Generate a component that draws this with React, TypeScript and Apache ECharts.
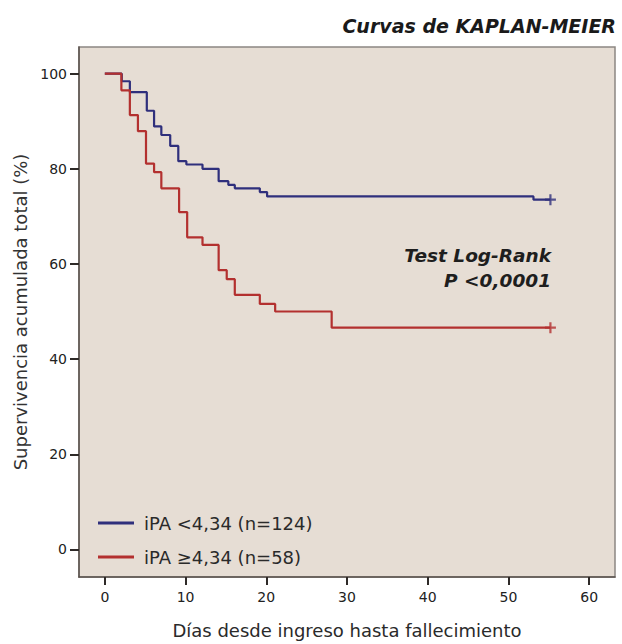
import React, { useEffect, useRef } from "react";
import * as echarts from "echarts";

const xTicks = [0, 10, 20, 30, 40, 50, 60];
const yTicks = [0, 20, 40, 60, 80, 100];

const lowLabel = "iPA <4,34 (n=124)";
const highLabel = "iPA ≥4,34 (n=58)";

// [day, survival %] step points (value after the event at that day)
const lowCurve: [number, number][] = [
  [0, 100], [2.1, 98.4], [3.1, 96.1], [5.2, 92.2], [6.1, 88.9], [7.0, 87.1],
  [8.1, 84.8], [9.1, 81.6], [10.1, 80.9], [12.1, 80.0], [14.1, 77.4],
  [15.3, 76.6], [16.1, 75.9], [19.2, 75.1], [20.1, 74.2], [53.1, 73.5], [55.2, 73.5],
];
const highCurve: [number, number][] = [
  [0, 100], [2.05, 96.5], [3.1, 91.3], [4.1, 87.9], [5.1, 81.1], [6.1, 79.3],
  [7.0, 75.9], [9.2, 70.9], [10.2, 65.6], [12.1, 64.0], [14.1, 58.7],
  [15.1, 56.8], [16.1, 53.5], [19.2, 51.6], [21.1, 50.0], [28.1, 46.6], [55.2, 46.6],
];
const lowCensored: [number, number][] = [[55.2, 73.5]];
const highCensored: [number, number][] = [[55.2, 46.6]];

const X_MIN = -3.2;
const X_MAX = 63.2;
const Y_MIN = -5.8;
const Y_MAX = 105.6;

const BLUE = "#2f2f7c";
const RED = "#b3302f";
const TICK = "#2e2a28";
const PLUS = "path://M4,0h2v4h4v2h-4v4h-2v-4h-4v-2h4z";
const FONT = "DejaVu Sans, Verdana, sans-serif";

export default function App() {
  const ref = useRef<HTMLDivElement>(null);
  useEffect(() => {
    if (!ref.current) return;
    const chart = echarts.init(ref.current, undefined, { renderer: "svg" });
    chart.setOption({
      animation: false,
      textStyle: { fontFamily: FONT },
      grid: {
        left: 79, right: 7, top: 47, bottom: 61,
        show: true, backgroundColor: "#e6ddd4", borderColor: "#8c8782", borderWidth: 1.5,
      },
      title: [
        {
          text: "Curvas de KAPLAN-MEIER", right: 6, top: 16, padding: 0,
          textStyle: { fontSize: 19, fontWeight: "bold", fontStyle: "italic", color: "#1a1a1a", fontFamily: FONT },
        },
      ],
      graphic: [
        {
          type: "text", x: 551, y: 255,
          style: {
            text: "Test Log-Rank", textAlign: "right", textVerticalAlign: "middle",
            font: `italic bold 18.5px ${FONT}`, fill: "#1e1e1e",
          },
        },
        {
          type: "text", x: 551, y: 280,
          style: {
            text: "P <0,0001", textAlign: "right", textVerticalAlign: "middle",
            font: `italic bold 18.5px ${FONT}`, fill: "#1e1e1e",
          },
        },
      ],
      legend: {
        orient: "vertical", left: 98, top: 514, padding: 0,
        itemWidth: 36, itemHeight: 3, itemGap: 16,
        icon: "rect", data: [lowLabel, highLabel],
        textStyle: { fontSize: 18, color: "#2a2a2a", fontFamily: FONT, padding: [0, 0, 0, 5] },
      },
      xAxis: {
        type: "value", min: X_MIN, max: X_MAX,
        name: "Días desde ingreso hasta fallecimiento", nameLocation: "middle", nameGap: 44,
        nameTextStyle: { fontSize: 18, color: "#2a2a2a" },
        splitLine: { show: false },
        axisLine: { show: true, onZero: false, lineStyle: { color: "#5a524d", width: 1.5 } },
        axisTick: { show: true, customValues: xTicks, length: 8, lineStyle: { color: TICK, width: 2 } },
        axisLabel: { customValues: xTicks, fontSize: 14, color: "#222", margin: 13 },
      },
      yAxis: {
        type: "value", min: Y_MIN, max: Y_MAX,
        name: "Supervivencia acumulada total (%)", nameLocation: "middle", nameGap: 48,
        nameTextStyle: { fontSize: 18, color: "#333" },
        splitLine: { show: false },
        axisLine: { show: true, onZero: false, lineStyle: { color: "#5a524d", width: 1.5 } },
        axisTick: { show: true, customValues: yTicks, length: 9, lineStyle: { color: TICK, width: 2 } },
        axisLabel: { customValues: yTicks, fontSize: 14, color: "#222", margin: 12 },
      },
      series: [
        {
          name: lowLabel, type: "line", step: "end", data: lowCurve, showSymbol: false,
          lineStyle: { color: BLUE, width: 2.2 }, itemStyle: { color: BLUE },
        },
        {
          name: highLabel, type: "line", step: "end", data: highCurve, showSymbol: false,
          lineStyle: { color: RED, width: 2.2 }, itemStyle: { color: RED },
        },
        {
          type: "scatter", data: lowCensored, symbol: PLUS, symbolSize: 11,
          itemStyle: { color: BLUE },
        },
        {
          type: "scatter", data: highCensored, symbol: PLUS, symbolSize: 11,
          itemStyle: { color: RED },
        },
      ],
    });
    return () => chart.dispose();
  }, []);
  return <div ref={ref} style={{ position: "absolute", left: 0, top: 0, width: 622, height: 644 }} />;
}
